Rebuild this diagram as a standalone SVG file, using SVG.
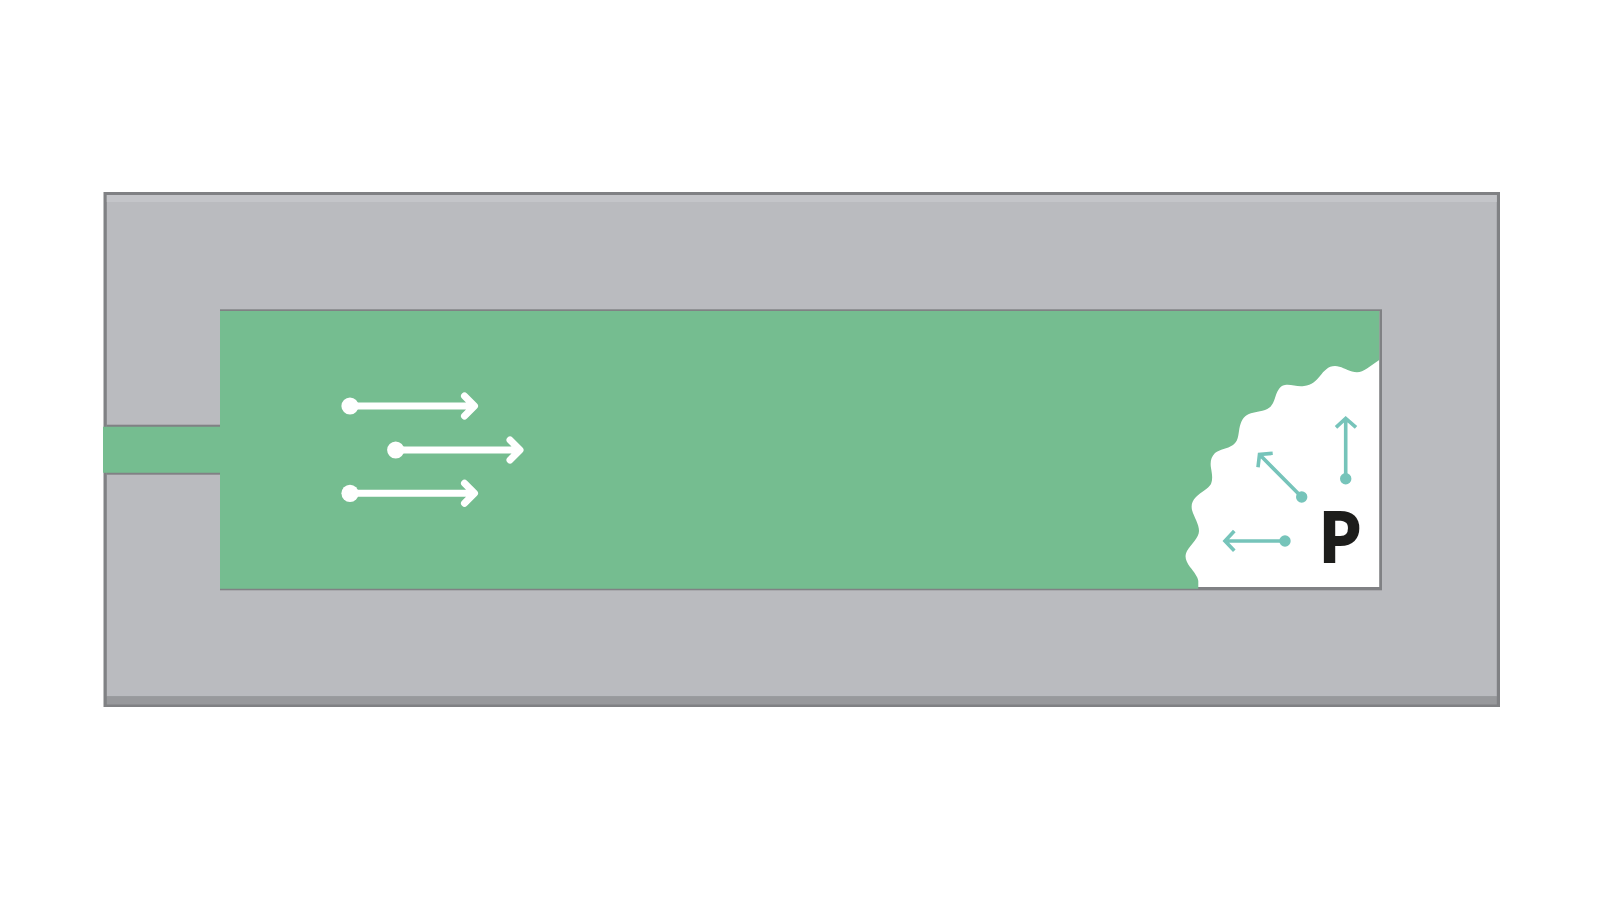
<svg xmlns="http://www.w3.org/2000/svg" width="1600" height="899" viewBox="0 0 1600 899">
<style>
.border{fill:#808184}
.ar-w{fill:none;stroke:#fff;stroke-width:7;stroke-linecap:round;stroke-linejoin:round}
.ar-t{fill:none;stroke:#76c4ba;stroke-width:3.600}
.dot-w{fill:#fff}
.dot-t{fill:#76c4ba}
</style>
<rect width="1600" height="899" fill="#fff"/>
<g id="housing">
<rect class="border" x="103.500" y="192" width="1396.500" height="515"/>
<rect x="106.800" y="195" width="1390" height="501.500" fill="#babbbf"/>
<rect x="106.800" y="195" width="1390" height="7" fill="#c4c5c9"/>
<rect x="106.800" y="696.500" width="1390" height="8" fill="#98999c"/>
</g>
<g id="chamber">
<rect class="border" x="220" y="309.300" width="1162" height="281"/>
<rect class="border" x="106.500" y="424.700" width="113.500" height="50"/>
<rect x="220" y="311" width="1159.200" height="276" fill="#fff"/>
<path fill="#75bd90" d="M103 426.700H220V311H1379.200V360L1367 368.500C1362 372 1358 373 1352 371.500C1346 370 1341 366 1335 366C1328 366 1324 371 1320 376C1316 381 1312 385 1304 386C1297 387 1291 384 1285 385C1279 386 1277 392 1275 398C1273 404 1271 408 1265 410C1258 412 1252 412 1247 415C1242 418 1240 424 1239 431C1238 437 1238 441 1233 445C1227 449 1220 449 1215 453C1211 457 1210 462 1211 468C1212 474 1213 479 1211 484C1208 489 1201 492 1196 497C1192 501 1191 505 1192 510C1194 517 1199 524 1199 531C1199 538 1191 544 1187 551C1184 557 1186 561 1190 567C1194 572 1198 577 1198.300 581V588.700H220V472.700H103Z"/>
</g>
<g id="connectors">
<g id="flow-arrow-1"><circle class="dot-w" cx="350" cy="406" r="8.600"/><path class="ar-w" d="M350 406H473M464.500 396L474.500 406L464.500 416"/></g>
<g id="flow-arrow-2"><circle class="dot-w" cx="395.700" cy="450" r="8.600"/><path class="ar-w" d="M396 450H519M510 440L520 450L510 460"/></g>
<g id="flow-arrow-3"><circle class="dot-w" cx="350" cy="493.300" r="8.600"/><path class="ar-w" d="M350 493.300H473M464.500 483.300L474.500 493.300L464.500 503.300"/></g>
<g id="spread-up"><circle class="dot-t" cx="1345.700" cy="478.700" r="5.700"/><path class="ar-t" d="M1345.700 478.700V419.500M1336 427.300L1345.700 418.500L1356 427.300"/></g>
<g id="spread-diag"><circle class="dot-t" cx="1301.700" cy="497" r="5.700"/><path class="ar-t" d="M1301.700 497L1260 455M1272.700 453.300L1259.500 454.500L1258 467.300"/></g>
<g id="spread-left"><circle class="dot-t" cx="1285" cy="541" r="5.700"/><path class="ar-t" d="M1285 541H1226M1234.300 531L1225 541L1234.300 550.700"/></g>
</g>
<g id="label-p"><text transform="translate(1320 562.300) scale(.93 1)" font-family="Lato, 'Liberation Sans', sans-serif" font-weight="900" font-size="68" fill="#1d1d1b" stroke="#1d1d1b" stroke-width="2">P</text></g>
</svg>
